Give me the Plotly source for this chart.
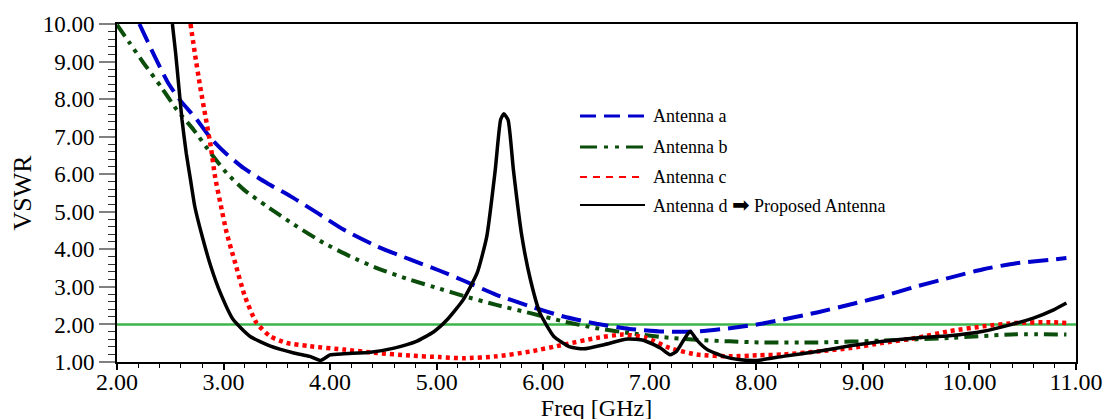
import plotly.graph_objects as go

# ---------------- data ----------------
freq_a = [2.21, 2.34, 2.48, 2.59, 2.75, 2.88, 3.02, 3.19, 3.41, 3.63, 3.88, 4.13, 4.44, 4.75,
          5.03, 5.25, 5.56, 5.88, 6.19, 6.50, 6.81, 7.13, 7.44, 7.75, 8.03, 8.25, 8.57, 8.88,
          9.19, 9.50, 9.81, 10.13, 10.44, 10.76, 10.91]
vswr_a = [10.0, 9.22, 8.43, 7.98, 7.45, 6.96, 6.56, 6.16, 5.76, 5.41, 4.97, 4.52, 4.08, 3.73,
          3.43, 3.17, 2.79, 2.48, 2.21, 2.02, 1.88, 1.81, 1.81, 1.90, 2.01, 2.13, 2.32, 2.53,
          2.75, 3.01, 3.24, 3.47, 3.63, 3.72, 3.77]

freq_b = [2.00, 2.12, 2.25, 2.41, 2.56, 2.72, 2.88, 3.03, 3.19, 3.41, 3.66, 3.94, 4.19, 4.44,
          4.75, 5.03, 5.25, 5.56, 5.88, 6.19, 6.50, 6.81, 7.13, 7.44, 7.75, 8.03, 8.57, 9.19,
          9.81, 10.44, 10.91]
vswr_b = [9.98, 9.49, 8.96, 8.34, 7.72, 7.18, 6.56, 6.03, 5.59, 5.14, 4.66, 4.17, 3.81, 3.50,
          3.19, 2.95, 2.76, 2.52, 2.30, 2.08, 1.90, 1.77, 1.66, 1.59, 1.55, 1.52, 1.52, 1.57,
          1.64, 1.74, 1.73]

freq_c = [2.69, 2.73, 2.78, 2.83, 2.88, 2.92, 2.97, 3.03, 3.11, 3.20, 3.31, 3.44, 3.59, 3.81,
          4.13, 4.44, 4.75, 5.03, 5.25, 5.56, 5.88, 6.19, 6.50, 6.75, 6.97, 7.19, 7.44, 7.75,
          8.03, 8.25, 8.57, 8.88, 9.19, 9.50, 9.81, 10.13, 10.44, 10.76, 10.91]
vswr_c = [10.0, 9.23, 8.34, 7.54, 6.74, 5.94, 5.23, 4.43, 3.63, 2.75, 2.04, 1.68, 1.51, 1.42,
          1.33, 1.24, 1.17, 1.13, 1.10, 1.15, 1.28, 1.46, 1.64, 1.73, 1.64, 1.37, 1.20, 1.15,
          1.18, 1.20, 1.28, 1.37, 1.51, 1.64, 1.82, 1.95, 2.04, 2.06, 2.04]

freq_d = [2.52, 2.55, 2.58, 2.61, 2.65, 2.69, 2.73, 2.80, 2.88, 2.97, 3.09, 3.25, 3.44, 3.66,
          3.81, 3.91, 4.00, 4.13, 4.38, 4.60, 4.81, 4.97, 5.10, 5.25, 5.38, 5.47, 5.55, 5.60,
          5.63, 5.67, 5.72, 5.80, 5.88, 5.97, 6.10, 6.25, 6.38, 6.57, 6.79, 6.94, 7.10, 7.19,
          7.25, 7.33, 7.38, 7.44, 7.54, 7.69, 7.85, 8.00, 8.25, 8.57, 8.88, 9.19, 9.50, 9.81,
          10.13, 10.38, 10.60, 10.79, 10.91]
vswr_d = [10.0, 9.23, 8.34, 7.45, 6.56, 5.85, 5.14, 4.34, 3.55, 2.84, 2.13, 1.68, 1.42, 1.24,
          1.15, 1.04, 1.19, 1.22, 1.26, 1.37, 1.55, 1.80, 2.13, 2.66, 3.37, 4.34, 6.12, 7.45,
          7.61, 7.45, 6.12, 4.34, 3.19, 2.30, 1.68, 1.40, 1.35, 1.46, 1.61, 1.58, 1.37, 1.19,
          1.28, 1.64, 1.82, 1.59, 1.33, 1.15, 1.06, 1.04, 1.15, 1.28, 1.43, 1.55, 1.64, 1.70,
          1.82, 1.99, 2.17, 2.39, 2.57]

ref_freq = [2.0, 11.0]
ref_vswr = [2.0, 2.0]

series_names = ["Antenna a", "Antenna b", "Antenna c", "Antenna d"]
x_ticks = [2, 3, 4, 5, 6, 7, 8, 9, 10, 11]
y_ticks = [1, 2, 3, 4, 5, 6, 7, 8, 9, 10]

# ---------------- styles ----------------
FONT = "Liberation Serif, Times New Roman, serif"
C_A = "#0000cc"
C_B = "#0b4d0b"
C_C = "#ff0000"
C_D = "#000000"
C_REF = "#3cb44b"

fig = go.Figure()
fig.add_trace(go.Scatter(x=ref_freq, y=ref_vswr, mode="lines", showlegend=False,
                         line=dict(color=C_REF, width=2.5), name="VSWR = 2"))
fig.add_trace(go.Scatter(x=freq_a, y=vswr_a, mode="lines", name=series_names[0], showlegend=False,
                         line=dict(color=C_A, width=4, dash="20px,8px", shape="spline", smoothing=0.6)))
fig.add_trace(go.Scatter(x=freq_b, y=vswr_b, mode="lines", name=series_names[1], showlegend=False,
                         line=dict(color=C_B, width=4, dash="14px,6px,4px,6px,4px,6px",
                                   shape="spline", smoothing=0.6)))
fig.add_trace(go.Scatter(x=freq_c, y=vswr_c, mode="lines", name=series_names[2], showlegend=False,
                         line=dict(color=C_C, width=4.5, dash="4px,4px", shape="spline", smoothing=0.6)))
fig.add_trace(go.Scatter(x=freq_d, y=vswr_d, mode="lines", name=series_names[3], showlegend=False,
                         line=dict(color=C_D, width=3.5, shape="spline", smoothing=0.5)))

# ---------------- layout geometry (page pixels; page body has an 8px margin) ----------------
OFF = 8
L, R, T, B = 117, 1076, 24, 362          # plot area in page pixels

def px2paper(px, py):
    return (px - L) / (R - L), (B - py) / (B - T)

legend_rows = [
    (116, C_A, 3, "16px,8px", "Antenna a"),
    (147, C_B, 3, "17px,7px,4px,7px,4px,7px", "Antenna b"),
    (177, C_C, 2, "7px,6px", "Antenna c"),
    (205, C_D, 2, "solid", "Antenna d"),
]
for py, col, w, dash, label in legend_rows:
    x0, y0 = px2paper(580, py)
    x1, _ = px2paper(645, py)
    fig.add_shape(type="line", xref="paper", yref="paper", x0=x0, x1=x1, y0=y0, y1=y0,
                  line=dict(color=col, width=w, dash=dash))
    tx, _ = px2paper(651, py)
    text = label
    if label == "Antenna d":
        text = ("Antenna d <span style='font-family:DejaVu Sans;font-size:21px'>&#10145;</span>"
                " Proposed Antenna")
    fig.add_annotation(xref="paper", yref="paper", x=tx, y=y0, text=text, showarrow=False,
                       xanchor="left", yanchor="middle",
                       font=dict(family=FONT, size=18, color="black"))

W, H = 1111, 419
fig.update_layout(
    width=W, height=H,
    margin=dict(l=L - OFF, r=W - (R - OFF), t=T - OFF, b=H - (B - OFF)),
    paper_bgcolor="white", plot_bgcolor="white",
    font=dict(family=FONT, color="black"),
)
fig.update_xaxes(
    range=[2, 11], tickvals=x_ticks, tickformat=".2f",
    showgrid=False, zeroline=False,
    showline=True, linecolor="black", linewidth=2, mirror=True,
    ticks="outside", ticklen=6, tickcolor="black", tickwidth=1.5,
    minor=dict(dtick=0.2, ticks="outside", ticklen=4, tickcolor="black", tickwidth=1),
    tickfont=dict(family=FONT, size=24, color="black"),
    ticklabelstandoff=-9,
    title=dict(text="Freq [GHz]", font=dict(family=FONT, size=24, color="black"), standoff=0),
    automargin=False,
)
fig.update_yaxes(
    range=[1, 10], tickvals=y_ticks, tickformat=".2f",
    showgrid=False, zeroline=False,
    showline=True, linecolor="black", linewidth=2, mirror=True,
    ticks="outside", ticklen=16, tickcolor="#808080", tickwidth=2,
    minor=dict(dtick=0.2, ticks="outside", ticklen=7, tickcolor="#333333", tickwidth=1),
    tickfont=dict(family=FONT, size=23, color="black"),
    title=dict(text="VSWR", font=dict(family=FONT, size=26, color="black"), standoff=4),
    automargin=False,
)

fig.write_html("out.html")
